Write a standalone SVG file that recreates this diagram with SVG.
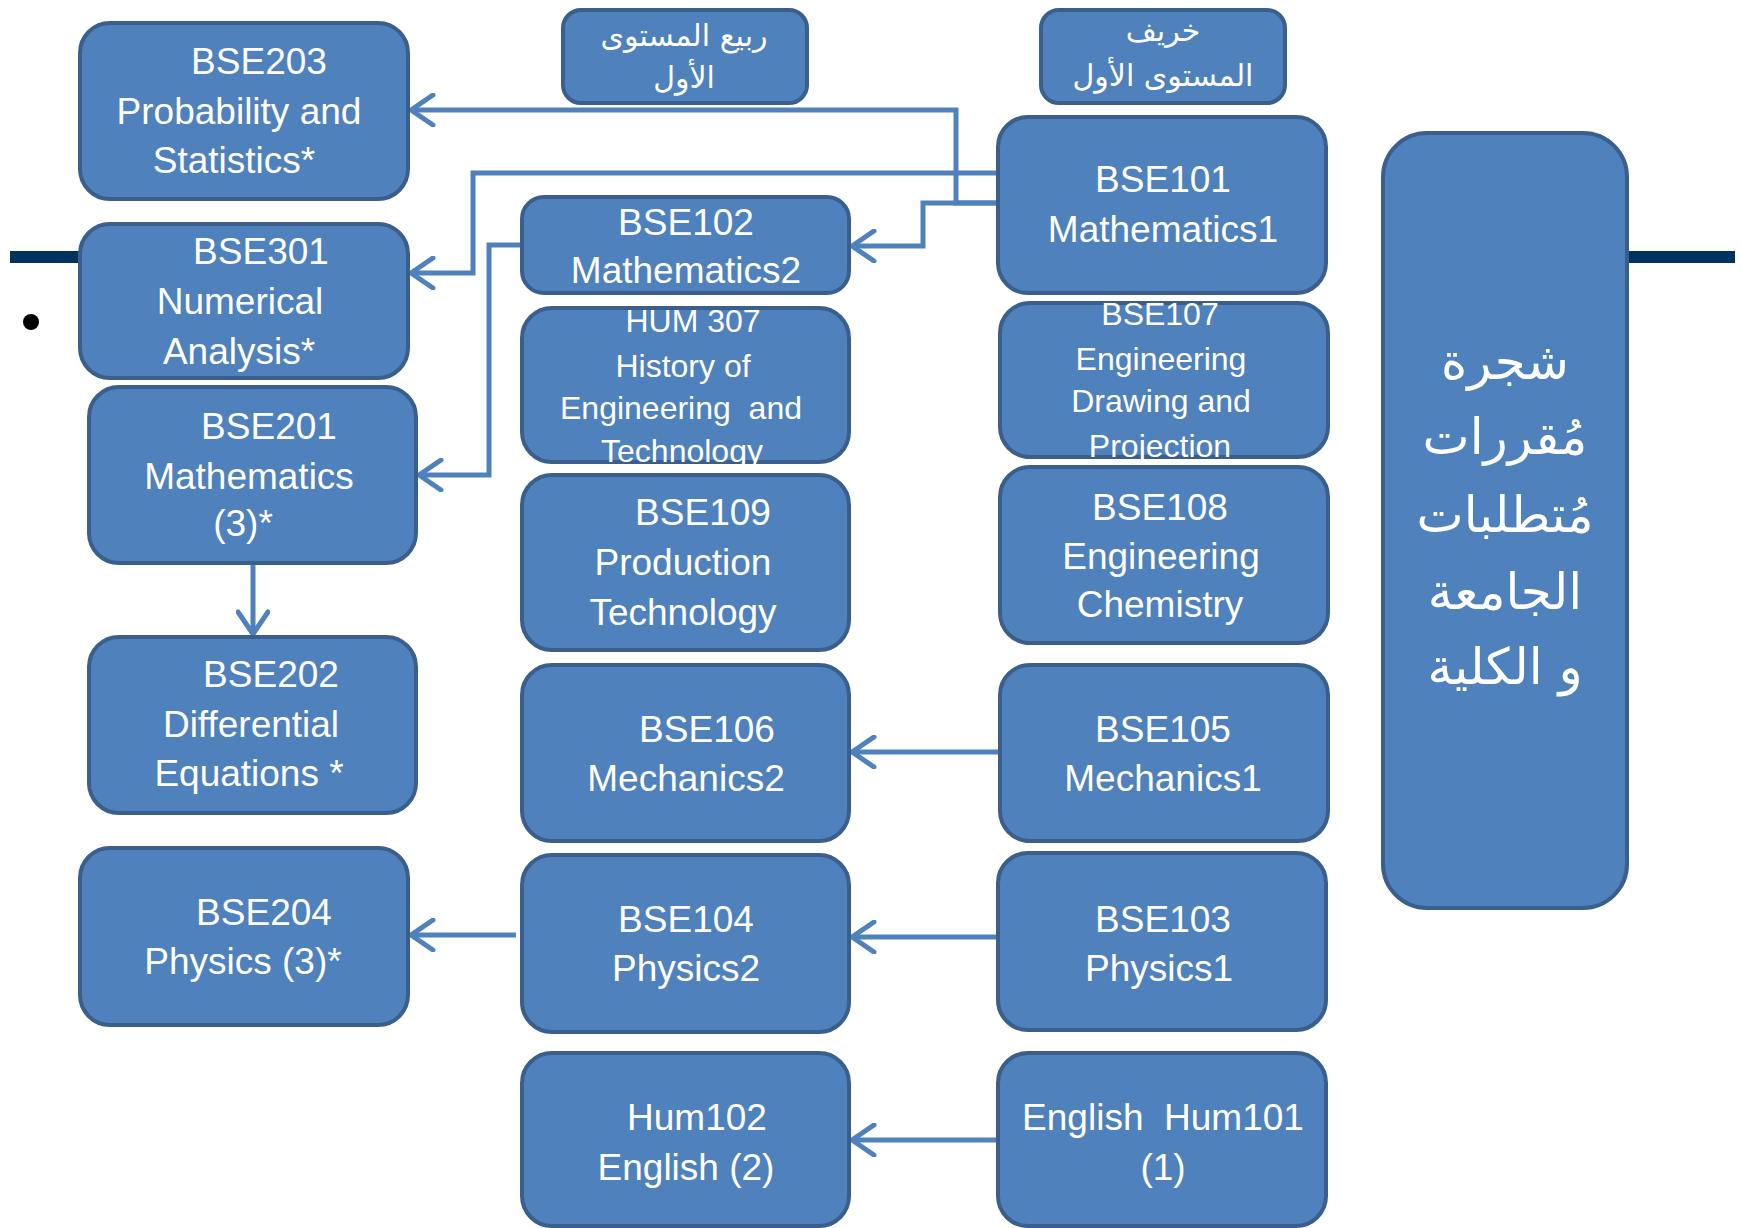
<svg xmlns="http://www.w3.org/2000/svg" width="1742" height="1228" viewBox="0 0 1742 1228">
<defs>
<style>
.box{fill:#4F81BD;stroke:#3A5F8C;stroke-width:4}
.t{font-family:"Liberation Sans",Arial,sans-serif;font-size:37px;fill:#FFFFFF;text-anchor:middle;dominant-baseline:central}
.s{font-size:32px}
.ar{font-family:"DejaVu Sans","Noto Sans",sans-serif;fill:#FFFFFF;text-anchor:middle;dominant-baseline:central}
.h{font-size:30px}
.b{font-size:50px}
.c{fill:none;stroke:#4F81BD;stroke-width:5;marker-end:url(#arr)}
</style>
<marker id="arr" viewBox="0 0 30 34" refX="27" refY="17" markerWidth="30" markerHeight="34" markerUnits="userSpaceOnUse" orient="auto">
<path d="M5,2 L27,17 L5,32" fill="none" stroke="#4F81BD" stroke-width="5" stroke-linecap="round" stroke-linejoin="round"/>
</marker>
</defs>
<rect width="1742" height="1228" fill="#FFFFFF"/>
<g id="decor">
<rect x="10" y="251" width="72" height="12" fill="#00345F"/>
<rect x="1626" y="251" width="109" height="12" fill="#00345F"/>
<circle cx="31" cy="322" r="8" fill="#000000"/>
</g>
<g id="connectors">
<path class="c" d="M998,203 H956 V110 H411"/>
<path class="c" d="M998,203 H923 V246 H852"/>
<path class="c" d="M998,173 H473 V273 H411"/>
<path class="c" d="M522,245 H489 V475 H419"/>
<path class="c" d="M253,563 V634"/>
<path class="c" d="M1000,752 H852"/>
<path class="c" d="M516,935 H411"/>
<path class="c" d="M998,937 H852"/>
<path class="c" d="M998,1140 H852"/>
</g>
<g id="hdrSpring"><rect class="box" x="563" y="10" width="244" height="93" rx="18"/>
<text class="ar h" x="684" y="35">ربيع المستوى</text><text class="ar h" x="684" y="77">الأول</text></g>
<g id="hdrFall"><rect class="box" x="1041" y="10" width="244" height="93" rx="18"/>
<text class="ar h" x="1163" y="30">خريف</text><text class="ar h" x="1163" y="75">المستوى الأول</text></g>
<g id="BSE203"><rect class="box" x="80" y="23" width="328" height="176" rx="30"/>
<text class="t" x="259" y="61">BSE203</text><text class="t" x="239" y="111">Probability and</text><text class="t" x="234" y="160">Statistics*</text></g>
<g id="BSE301"><rect class="box" x="80" y="224" width="328" height="154" rx="30"/>
<text class="t" x="261" y="251">BSE301</text><text class="t" x="240" y="301">Numerical</text><text class="t" x="239" y="351">Analysis*</text></g>
<g id="BSE201"><rect class="box" x="89" y="387" width="327" height="176" rx="30"/>
<text class="t" x="269" y="426">BSE201</text><text class="t" x="249" y="476">Mathematics</text><text class="t" x="243" y="523">(3)*</text></g>
<g id="BSE202"><rect class="box" x="89" y="637" width="327" height="176" rx="30"/>
<text class="t" x="271" y="674">BSE202</text><text class="t" x="251" y="724">Differential</text><text class="t" x="249" y="773">Equations *</text></g>
<g id="BSE204"><rect class="box" x="80" y="848" width="328" height="177" rx="30"/>
<text class="t" x="264" y="912">BSE204</text><text class="t" x="243" y="961">Physics (3)*</text></g>
<g id="BSE102"><rect class="box" x="522" y="197" width="327" height="96" rx="22"/>
<text class="t" x="686" y="222">BSE102</text><text class="t" x="686" y="270">Mathematics2</text></g>
<g id="HUM307"><rect class="box" x="522" y="308" width="327" height="154" rx="30"/>
<text class="t s" x="693" y="321">HUM 307</text><text class="t s" x="683" y="366">History of</text><text class="t s" x="681" y="408" xml:space="preserve">Engineering  and</text><text class="t s" x="682" y="451">Technology</text></g>
<g id="BSE109"><rect class="box" x="522" y="475" width="327" height="175" rx="30"/>
<text class="t" x="703" y="512">BSE109</text><text class="t" x="683" y="562">Production</text><text class="t" x="683" y="612">Technology</text></g>
<g id="BSE106"><rect class="box" x="522" y="665" width="327" height="176" rx="30"/>
<text class="t" x="707" y="729">BSE106</text><text class="t" x="686" y="778">Mechanics2</text></g>
<g id="BSE104"><rect class="box" x="522" y="855" width="327" height="177" rx="30"/>
<text class="t" x="686" y="919">BSE104</text><text class="t" x="686" y="968">Physics2</text></g>
<g id="Hum102"><rect class="box" x="522" y="1053" width="327" height="173" rx="30"/>
<text class="t" x="697" y="1117">Hum102</text><text class="t" x="686" y="1167">English (2)</text></g>
<g id="BSE101"><rect class="box" x="998" y="117" width="328" height="176" rx="30"/>
<text class="t" x="1163" y="179">BSE101</text><text class="t" x="1163" y="229">Mathematics1</text></g>
<g id="BSE107"><rect class="box" x="1000" y="303" width="328" height="154" rx="30"/>
<text class="t s" x="1160" y="314">BSE107</text><text class="t s" x="1161" y="359">Engineering</text><text class="t s" x="1161" y="401">Drawing and</text><text class="t s" x="1160" y="446">Projection</text></g>
<g id="BSE108"><rect class="box" x="1000" y="467" width="328" height="176" rx="30"/>
<text class="t" x="1160" y="507">BSE108</text><text class="t" x="1161" y="556">Engineering</text><text class="t" x="1160" y="604">Chemistry</text></g>
<g id="BSE105"><rect class="box" x="1000" y="665" width="328" height="176" rx="30"/>
<text class="t" x="1163" y="729">BSE105</text><text class="t" x="1163" y="778">Mechanics1</text></g>
<g id="BSE103"><rect class="box" x="998" y="853" width="328" height="177" rx="30"/>
<text class="t" x="1163" y="919">BSE103</text><text class="t" x="1159" y="968">Physics1</text></g>
<g id="Hum101"><rect class="box" x="998" y="1053" width="328" height="173" rx="30"/>
<text class="t" x="1163" y="1117" xml:space="preserve">English  Hum101</text><text class="t" x="1163" y="1167">(1)</text></g>
<g id="UniTree"><rect class="box" x="1383" y="133" width="244" height="775" rx="44"/>
<text class="ar b" x="1505" y="362">شجرة</text><text class="ar b" x="1505" y="437">مُقررات</text><text class="ar b" x="1505" y="515">مُتطلبات</text><text class="ar b" x="1505" y="592">الجامعة</text><text class="ar b" x="1505" y="667">و الكلية</text></g>
</svg>
